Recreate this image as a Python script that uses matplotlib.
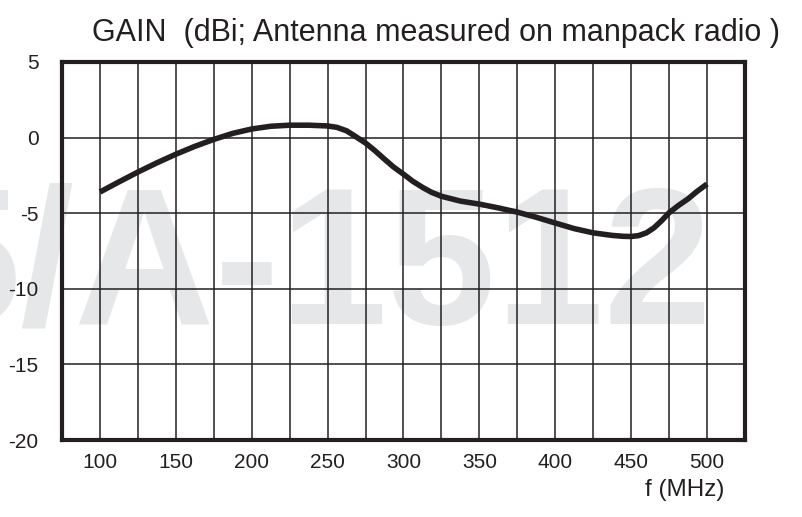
import numpy as np
import matplotlib.pyplot as plt
from matplotlib.ticker import MultipleLocator

# gain curve
freq = [100, 112.5, 125, 137.5, 150, 162.5, 175, 187.5, 200, 212.5, 225, 237.5,
        250, 256, 262.5, 268, 275, 281, 287.5, 293.5, 300, 306, 312.5, 318.5,
        325, 337.5, 350, 362.5, 375, 387.5, 400, 412.5, 425, 437.5, 445, 450,
        455, 460, 465, 470, 475, 481, 487.5, 493.5, 500]
gain = [-3.6, -2.93, -2.28, -1.67, -1.1, -0.58, -0.12, 0.28, 0.57, 0.75, 0.82,
        0.82, 0.77, 0.68, 0.45, 0.1, -0.36, -0.85, -1.43, -1.95, -2.42, -2.88,
        -3.29, -3.62, -3.88, -4.2, -4.4, -4.65, -4.93, -5.27, -5.65, -6.02,
        -6.3, -6.47, -6.53, -6.54, -6.48, -6.3, -5.97, -5.5, -4.97, -4.5,
        -4.05, -3.55, -3.07]
xticks = [100, 150, 200, 250, 300, 350, 400, 450, 500]
yticks = [5, 0, -5, -10, -15, -20]

ink = '#231f20'
plt.rcParams['font.family'] = ['Liberation Sans', 'DejaVu Sans']

W, H = 803, 517
fig = plt.figure(figsize=(W/100, H/100), dpi=100)
ax = fig.add_axes([62/W, 1-440/H, (745-62)/W, (440-62)/H])
ax.set_facecolor('none')

# faint watermark behind the grid
fig.text(712/W, 1-323/H, '5/A-1512', ha='right', va='baseline', fontsize=140,
         fontweight='bold', color='#e6e7e8', zorder=-5)

ax.plot(freq, gain, color=ink, lw=4, solid_capstyle='butt',
        solid_joinstyle='round', zorder=3)

ax.set_xlim(75, 525)
ax.set_ylim(-20, 5)
ax.set_xticks(xticks)
ax.xaxis.set_minor_locator(MultipleLocator(25))
ax.set_yticks(yticks)
ax.set_yticklabels([str(v) for v in yticks])
ax.grid(True, which='both', axis='x', color=ink, lw=1.1)
ax.grid(True, which='major', axis='y', color=ink, lw=1.1)
ax.tick_params(which='both', length=0)
ax.tick_params(axis='x', pad=9, labelsize=15, labelcolor=ink)
ax.tick_params(axis='y', pad=17, labelsize=15, labelcolor=ink)
for s in ax.spines.values():
    s.set_linewidth(3)
    s.set_color(ink)

fig.text(92/W, 1-33/H, 'GAIN  (dBi; Antenna measured on manpack radio )',
         ha='left', va='center', fontsize=22, color=ink)
fig.text(724/W, 1-490/H, 'f (MHz)', ha='right', va='center', fontsize=17.5,
         color=ink)

fig.savefig('out.png', dpi=100)
